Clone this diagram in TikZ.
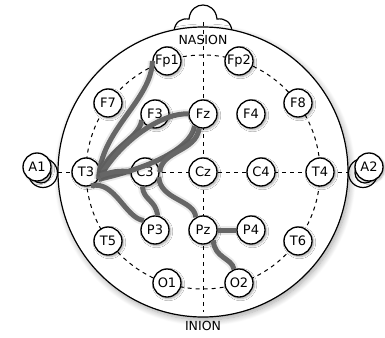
\documentclass[tikz,border=0pt]{standalone}
\usepackage{fontspec}
\setmainfont{DejaVu Sans}
\usetikzlibrary{shadows.blur}
\definecolor{linkgray}{HTML}{666666}
\tikzset{
    electrode/.style={circle, draw=black, fill=white, line width=1.3pt, minimum size=28pt, inner sep=0pt, font=\fontsize{13}{15}\selectfont, blur shadow={shadow xshift=1.5pt, shadow yshift=-1.5pt, shadow blur steps=6, shadow opacity=35}},
    outline/.style={draw=black, line width=1.2pt},
    guide/.style={dash pattern=on 4pt off 4pt, line width=1pt},
    link/.style={draw=linkgray, line width=5pt, preaction={draw=black, opacity=0.08, line width=9pt}},
    landmark/.style={font=\fontsize{12.5}{14}\selectfont, inner sep=0pt}
}

\begin{document}
\begin{tikzpicture}[x=1pt, y=-1pt]
    \useasboundingbox (0,0) rectangle (385,337);

    % ears and nose
    \draw [outline, fill=white] (43,173) circle (14.5pt);
    \draw [outline] (41,173) circle (10pt);
    \draw [outline, fill=white] (363,173) circle (14.5pt);
    \draw [outline] (365,173) circle (10pt);
    \draw [outline, fill=white] (174,31) .. controls (175,22) and (181,18) .. (189,19)
        .. controls (190,9) and (197,5) .. (203,5) .. controls (209,5) and (216,9) .. (217,19)
        .. controls (225,18) and (231,22) .. (232,31);

    % head
    \draw [outline, fill=white, blur shadow={shadow xshift=2pt, shadow yshift=-3pt, shadow blur steps=10, shadow blur radius=6pt, shadow opacity=35}] (203,172) circle (145pt);

    % guide lines
    \draw [guide] (203,172) circle (117pt);
    \draw [guide] (203,22) -- (203,312);
    \draw [guide] (58,172) -- (348,172);

    \node [landmark] (nasion) at (203,40) {NASION};
    \node [landmark] (inion) at (203,326) {INION};

    % electrodes
    \node [electrode] (Fp1) at (167,61) {Fp1};
    \node [electrode] (Fp2) at (239,61) {Fp2};
    \node [electrode] (F7) at (108,103) {F7};
    \node [electrode] (F3) at (155,114) {F3};
    \node [electrode] (Fz) at (203,114) {Fz};
    \node [electrode] (F4) at (251,114) {F4};
    \node [electrode] (F8) at (298,103) {F8};
    \node [electrode] (A1) at (37,167) {A1};
    \node [electrode] (T3) at (86,172) {T3};
    \node [electrode] (C3) at (145,172) {C3};
    \node [electrode] (Cz) at (203,172) {Cz};
    \node [electrode] (C4) at (261,172) {C4};
    \node [electrode] (T4) at (320,172) {T4};
    \node [electrode] (A2) at (369,167) {A2};
    \node [electrode] (T5) at (108,241) {T5};
    \node [electrode] (P3) at (155,230) {P3};
    \node [electrode] (Pz) at (203,230) {Pz};
    \node [electrode] (P4) at (251,230) {P4};
    \node [electrode] (T6) at (298,241) {T6};
    \node [electrode] (O1) at (167,283) {O1};
    \node [electrode] (O2) at (239,283) {O2};

    % connections
    \draw [link] (Fp1.west) .. controls (152,100) and (100,130) .. (T3.-30);
    \draw [link] (F3.205) .. controls (139,140) and (106,148) .. (T3.-30);
    \draw [link] (Fz.180) .. controls (165,112) and (122,138) .. (T3.-25);
    \draw [link] (Fz.235) .. controls (190,152) and (140,170) .. (T3.-30);
    \draw [link] (Fz.255) .. controls (196,152) and (162,150) .. (C3.east);
    \draw [link] (T3.-15) .. controls (110,172) and (120,170) .. (C3.west);
    \draw [link] (T3.-70) .. controls (115,180) and (125,218) .. (P3.140);
    \draw [link] (C3.-100) .. controls (143,200) and (156,200) .. (P3.80);
    \draw [link] (C3.-20) .. controls (160,200) and (195,200) .. (Pz.120);
    \draw [link] (Pz.east) -- (P4.west);
    \draw [link] (Pz.-45) .. controls (214,258) and (232,258) .. (O2.110);
\end{tikzpicture}
\end{document}
